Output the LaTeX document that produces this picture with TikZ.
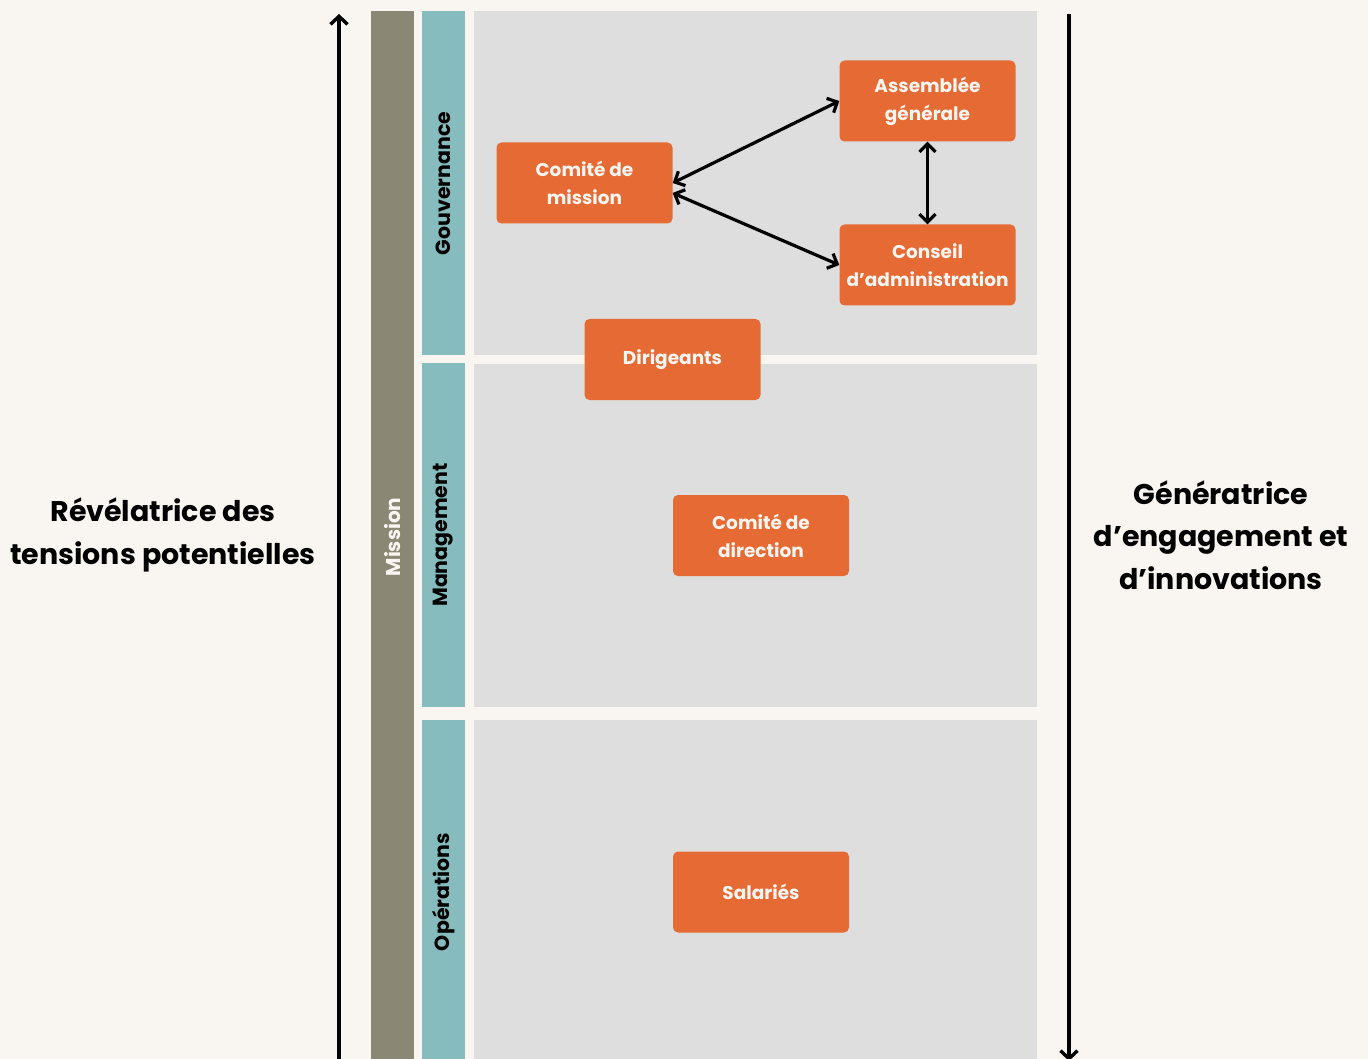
\documentclass[tikz,border=0pt]{standalone}
\usepackage{fontspec}
\setmainfont{Poppins}
\usetikzlibrary{arrows.meta}
\definecolor{paper}{HTML}{F9F5F1}
\definecolor{missionc}{HTML}{8A8775}
\definecolor{layerc}{HTML}{87BCBE}
\definecolor{panelc}{HTML}{DEDEDE}
\definecolor{boxc}{HTML}{E66A33}
\begin{document}
\begin{tikzpicture}[x=1pt,y=-1pt,
  orgbox/.style={fill=boxc, rounded corners=5pt, minimum width=176pt, minimum height=81pt,
    inner sep=0pt, text=paper, align=center, font=\fontsize{18.5}{28}\selectfont\bfseries},
  layerlabel/.style={rotate=90, font=\fontsize{20.5}{24}\selectfont\bfseries, text=black},
  sidetext/.style={align=center, font=\fontsize{28.5}{42.5}\selectfont\bfseries, text=black},
  link/.style={line width=3.2pt, {Straight Barb[length=8pt,width=16pt]}-{Straight Barb[length=8pt,width=16pt]}},
  axis/.style={line width=3.4pt}
]
% page
\fill[paper] (0,0) rectangle (1368,1059);
\useasboundingbox (0,0) rectangle (1368,1059);
\clip (0,0) rectangle (1368,1059);

% mission bar and layer bars
\fill[missionc] (371,11) rectangle (414,1070);
\node[rotate=90, text=paper, font=\fontsize{20}{24}\selectfont\bfseries] (mission) at (392.5,537) {Mission};

\fill[layerc] (422,11) rectangle (465,355);
\fill[layerc] (422,363) rectangle (465,707);
\fill[layerc] (422,720) rectangle (465,1070);
\node[layerlabel] (gouv) at (443.5,183.5) {Gouvernance};
\node[layerlabel] (mgmt) at (443.5,535) {Management};
\node[layerlabel] (ops) at (443.5,892) {Opérations};

% panels
\fill[panelc] (474,11) rectangle (1037,355);
\fill[panelc] (474,364) rectangle (1037,707);
\fill[panelc] (474,720) rectangle (1037,1070);

% organs
\node[orgbox] (cm) at (584.5,183) {Comité de\\mission};
\node[orgbox] (ag) at (927.5,101) {Assemblée\\générale};
\node[orgbox] (ca) at (927.5,265) {Conseil\\d'administration};
\node[orgbox] (dir) at (672.5,359.5) {Dirigeants};
\node[orgbox] (cd) at (761,535.5) {Comité de\\direction};
\node[orgbox] (sal) at (761,892) {Salariés};

% relations
\draw[link] (cm.east |- 0,183) -- (ag.west |- 0,101);
\draw[link] (cm.east |- 0,193) -- (ca.west |- 0,265);
\draw[link] (ag.south) -- (ca.north);

% side axes
\coordinate (lb) at (339,1075);
\coordinate (lt) at (339,14);
\coordinate (rt) at (1069,14);
\coordinate (rb) at (1069,1061);
\draw[axis, -{Straight Barb[length=8pt,width=17pt]}] (lb) -- (lt);
\draw[axis, -{Straight Barb[length=8pt,width=17pt]}] (rt) -- (rb);

% side captions
\node[sidetext] (left) at (163,535) {Révélatrice des\\tensions potentielles};
\node[sidetext] (right) at (1221,535) {Génératrice\\d’engagement et\\d’innovations};
\end{tikzpicture}
\end{document}
